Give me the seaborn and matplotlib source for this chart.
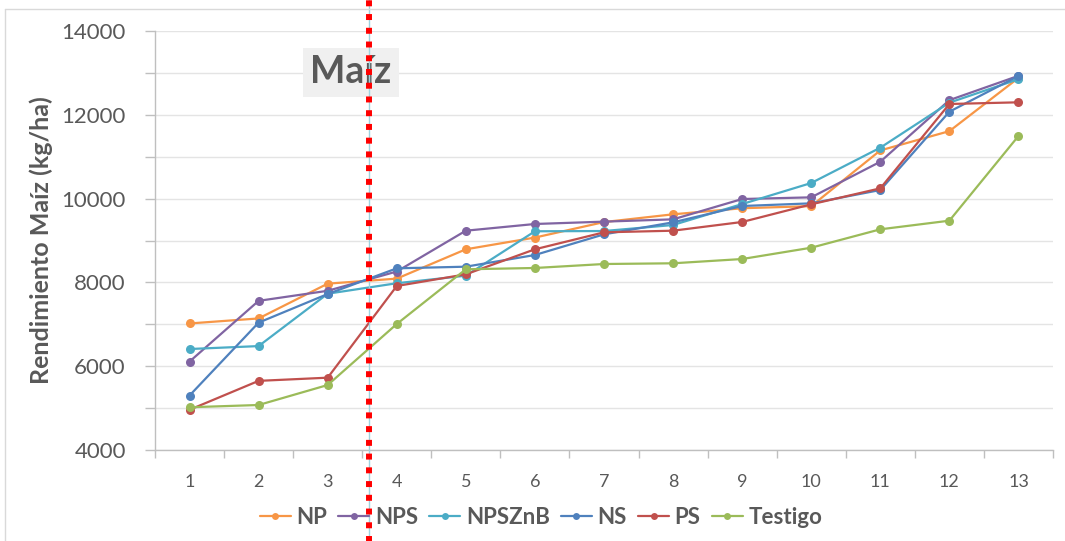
import numpy as np
import pandas as pd
import matplotlib
matplotlib.use("Agg")
import matplotlib.pyplot as plt
from matplotlib.lines import Line2D
from matplotlib.ticker import MultipleLocator, FixedLocator
import seaborn as sns

# Rendimiento de maíz (kg/ha) por sitio, ordenado de menor a mayor
sitios = list(range(1, 14))
np_vals = [7020, 7140, 7970, 8090, 8790, 9070, 9440, 9625, 9770, 9820, 11150, 11610, 12880]
nps_vals = [6110, 7560, 7800, 8260, 9234, 9394, 9450, 9505, 9990, 10030, 10880, 12350, 12930]
npsznb_vals = [6410, 6480, 7730, 7980, 8160, 9220, 9226, 9370, 9870, 10372, 11215, 12290, 12850]
ns_vals = [5300, 7040, 7723, 8336, 8375, 8654, 9147, 9434, 9823, 9887, 10205, 12074, 12926]
ps_vals = [4960, 5650, 5726, 7914, 8193, 8790, 9195, 9234, 9442, 9863, 10245, 12258, 12298]
testigo_vals = [5020, 5074, 5551, 7007, 8313, 8344, 8439, 8456, 8558, 8828, 9267, 9473, 11494]

tratamientos = ["NP", "NPS", "NPSZnB", "NS", "PS", "Testigo"]
colores = ["#F79646", "#8064A2", "#4BACC6", "#4F81BD", "#C0504D", "#9BBB59"]
corte_x = 3.6  # separación marcada en el eje de sitios

series = [np_vals, nps_vals, npsznb_vals, ns_vals, ps_vals, testigo_vals]
df = pd.DataFrame({
    "sitio": sitios * len(tratamientos),
    "rend": sum(series, []),
    "trat": [t for t in tratamientos for _ in sitios],
})

sns.set_theme(style="white")
plt.rcParams["font.family"] = ["Lato", "DejaVu Sans"]
gris_txt = "#595959"
gris_eje = "#BFBFBF"

fig = plt.figure(figsize=(10.65, 5.41), dpi=100)
ax = fig.add_axes([155 / 1065, 1 - 450 / 541, (1053 - 155) / 1065, (450 - 31) / 541])

palette = dict(zip(tratamientos, colores))
sns.lineplot(data=df, x="sitio", y="rend", hue="trat", hue_order=tratamientos,
             palette=palette, marker="o", markersize=6.5, markeredgewidth=0,
             linewidth=1.6, legend=False, ax=ax, zorder=3)

ax.set_xlim(0.5, 13.5)
ax.set_ylim(4000, 14000)

ax.xaxis.set_major_locator(FixedLocator(sitios))
ax.set_xticklabels([str(s) for s in sitios])
ax.xaxis.set_minor_locator(FixedLocator(np.arange(0.5, 14, 1.0)))
ax.tick_params(axis="x", which="major", length=0, pad=17, labelsize=13, labelcolor=gris_txt)
ax.tick_params(axis="x", which="minor", length=6, width=1, color=gris_eje, direction="out", bottom=True)

ax.yaxis.set_major_locator(MultipleLocator(2000))
ax.yaxis.set_minor_locator(MultipleLocator(1000))
ax.tick_params(axis="y", which="both", length=7, width=1, color=gris_eje, direction="out", left=True)
ax.tick_params(axis="y", which="major", pad=14, labelsize=16, labelcolor=gris_txt)

ax.grid(True, which="both", axis="y", color="#E4E4E4", linewidth=1, zorder=0)
ax.set_axisbelow(True)
for side in ["top", "right"]:
    ax.spines[side].set_visible(False)
for side in ["left", "bottom"]:
    ax.spines[side].set_color(gris_eje)
    ax.spines[side].set_linewidth(1)

ax.set_xlabel("")
ax.set_ylabel("Rendimiento Maíz (kg/ha)", fontsize=18, fontweight="bold", color=gris_txt, labelpad=6)

# Línea vertical que separa los sitios
ax.axvline(corte_x, ymin=-0.22, ymax=1.08, color="#9DD3E0", linewidth=1, clip_on=False, zorder=5)
ax.axvline(corte_x, ymin=-0.22, ymax=1.08, color="#FF0000", linewidth=4.3,
           linestyle=(0, (1.0, 1.3)), dash_capstyle="butt", clip_on=False, zorder=6)

ax.text(351 / 1065, 1 - 72 / 541, "Maíz", transform=fig.transFigure, ha="center", va="center",
        fontsize=27, fontweight="bold", color=gris_txt, zorder=4,
        bbox=dict(boxstyle="square,pad=0.2", facecolor="#F0F0F0", edgecolor="none"))

handles = [Line2D([0], [0], color=c, marker="o", markersize=5, markeredgewidth=0, linewidth=1.6)
           for c in colores]
fig.legend(handles, tratamientos, loc="center", bbox_to_anchor=(0.508, 0.044), ncol=6,
           frameon=False, prop={"weight": "bold", "size": 16}, labelcolor=gris_txt,
           handlelength=1.4, handletextpad=0.25, columnspacing=0.5, borderpad=0)

# Marco exterior del gráfico
fig.add_artist(Line2D([5 / 1065, 5 / 1065], [0, 1 - 9 / 541], transform=fig.transFigure,
                      color="#D9D9D9", linewidth=1))
fig.add_artist(Line2D([5 / 1065, 1], [1 - 9 / 541, 1 - 9 / 541], transform=fig.transFigure,
                      color="#D9D9D9", linewidth=1))

fig.savefig("out.png", dpi=100)
